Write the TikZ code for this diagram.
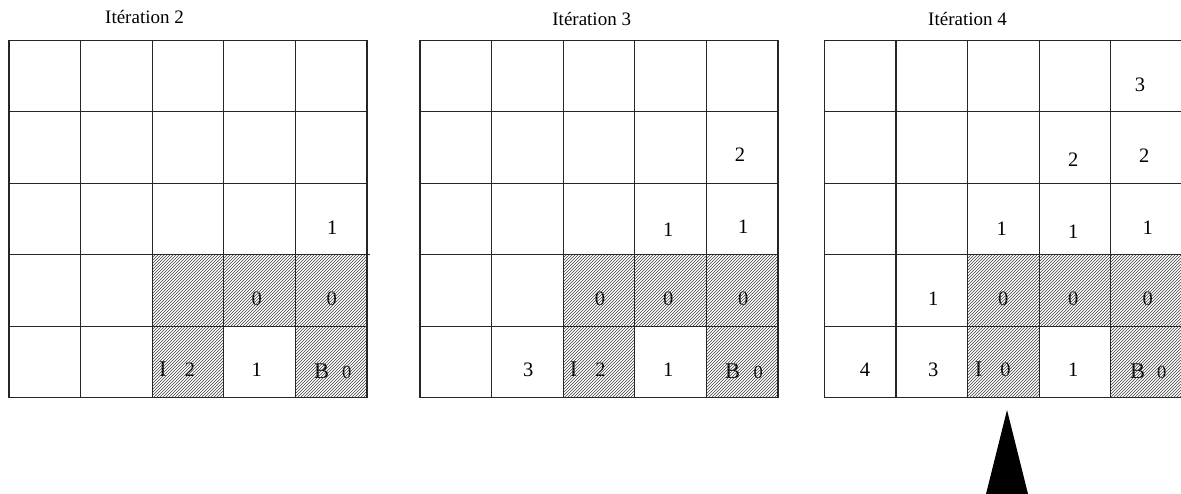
\documentclass[tikz,border=0pt]{standalone}
\usepackage{fontspec}
\setmainfont{Liberation Serif}
\usetikzlibrary{patterns}
\begin{document}
\begin{tikzpicture}[x=1pt,y=-1pt,
  gridline/.style={draw=black!85,line width=1.2pt},
  hatch/.style={pattern=north east lines,pattern color=black!75},
  lbl/.style={inner sep=0pt,font=\fontsize{20.5}{24}\selectfont},
  biglbl/.style={inner sep=0pt,font=\fontsize{22.5}{26}\selectfont},
  smlbl/.style={inner sep=0pt,font=\fontsize{18.5}{22}\selectfont},
  ttl/.style={inner sep=0pt,anchor=base,font=\fontsize{19}{22}\selectfont}]
\useasboundingbox (0,0) rectangle (1181,494);
\fill[white] (0,0) rectangle (1181,494);

% titles
\node[ttl] (t2) at (144.5,23.3) {Itération 2};
\node[ttl] (t3) at (591.7,26) {Itération 3};
\node[ttl] (t4) at (967.5,26) {Itération 4};

% grid 1 labels
\node[lbl] (a1) at (332.3,227.5) {1};
\node[lbl] (a2) at (256.7,298.3) {0};
\node[lbl] (a3) at (331.7,298.3) {0};
\node[biglbl] (a4) at (162.9,369) {I};
\node[lbl] (a5) at (190,370) {2};
\node[lbl] (a6) at (256.7,370) {1};
\node[biglbl] (a7) at (321.7,370.8) {B};
\node[smlbl] (a8) at (346.7,372.8) {0};

% grid 2 labels
\node[lbl] (b1) at (740,155) {2};
\node[lbl] (b2) at (668.3,230) {1};
\node[lbl] (b3) at (743.3,226.7) {1};
\node[lbl] (b4) at (600,298.3) {0};
\node[lbl] (b5) at (668.3,298.3) {0};
\node[lbl] (b6) at (743.3,298.3) {0};
\node[lbl] (b7) at (528.3,370) {3};
\node[biglbl] (b8) at (573.6,369) {I};
\node[lbl] (b9) at (600.5,370) {2};
\node[lbl] (b10) at (668.3,370) {1};
\node[biglbl] (b11) at (732.5,370.8) {B};
\node[smlbl] (b12) at (758.3,372.8) {0};

% grid 3 labels
\node[lbl] (c1) at (1140,85) {3};
\node[lbl] (c2) at (1073.3,160) {2};
\node[lbl] (c3) at (1144.3,156) {2};
\node[lbl] (c4) at (1001.7,228.3) {1};
\node[lbl] (c5) at (1073.3,231.7) {1};
\node[lbl] (c6) at (1147.7,227.7) {1};
\node[lbl] (c7) at (933.3,299) {1};
\node[lbl] (c8) at (1003.3,299) {0};
\node[lbl] (c9) at (1073.3,299) {0};
\node[lbl] (c10) at (1147.7,299) {0};
\node[lbl] (c11) at (865,370) {4};
\node[lbl] (c12) at (933.3,370) {3};
\node[biglbl] (c13) at (978.6,369) {I};
\node[lbl] (c14) at (1005.5,370) {0};
\node[lbl] (c15) at (1073.3,370) {1};
\node[biglbl] (c16) at (1137.5,370.8) {B};
\node[smlbl] (c17) at (1161.7,372.8) {0};

% grids with hatched cells
\foreach \gx in {9,420,824.3}{
  \foreach \c/\r in {2/3,3/3,4/3,2/4,4/4}{
    \fill[hatch] (\gx+\c*71.6,40.3+\r*71.5) rectangle ++(71.6,71.5);
  }
  \foreach \i in {0,...,5}{
    \draw[gridline] (\gx+\i*71.6,40.3) -- (\gx+\i*71.6,397.8);
    \draw[gridline] (\gx,40.3+\i*71.5) -- (\gx+358,40.3+\i*71.5);
  }
}
\draw[gridline] (367,254.8) -- (370,254.8);

% arrow head
\fill[black] (1007,410) -- (1028.5,496) -- (985.5,496) -- cycle;
\end{tikzpicture}
\end{document}
